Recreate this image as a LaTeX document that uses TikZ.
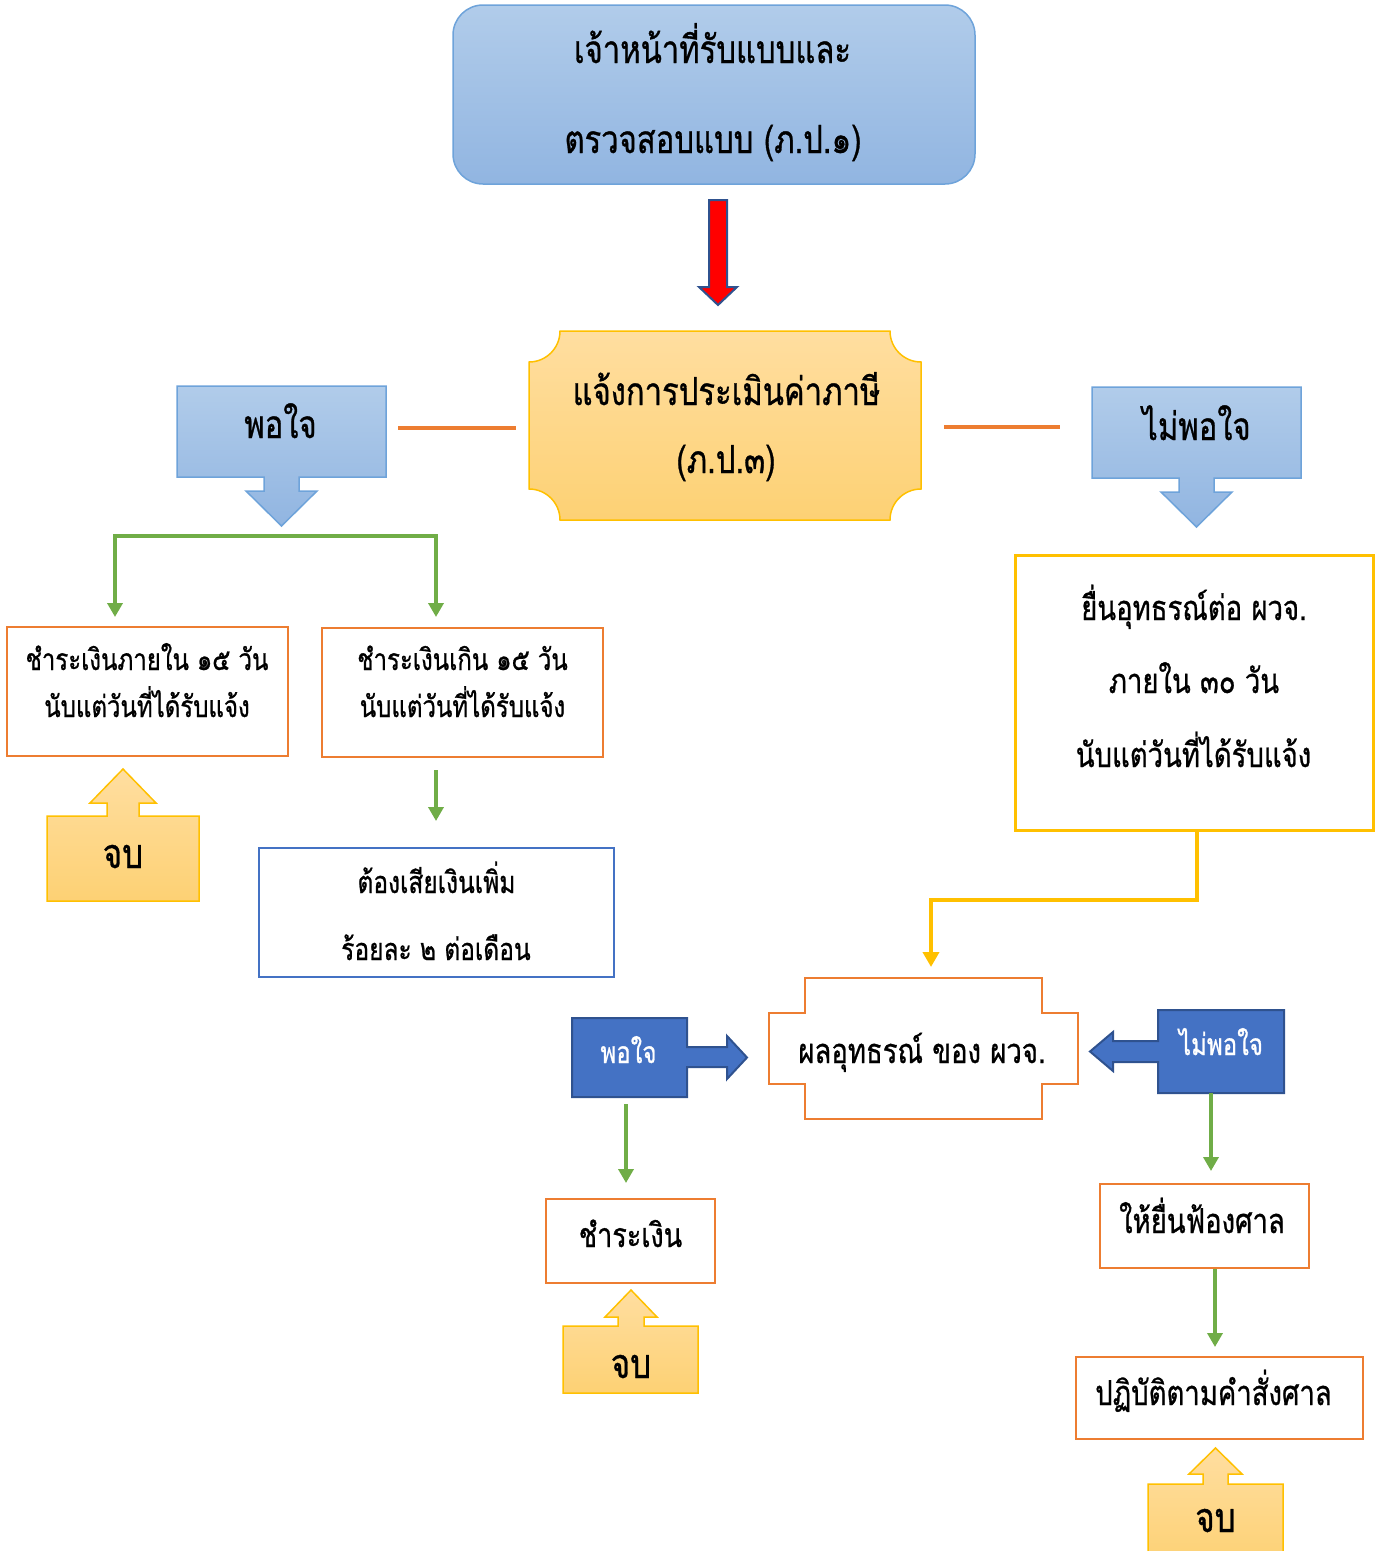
\documentclass[tikz,border=0pt]{standalone}
\usepackage{fontspec}
\newfontfamily\thaifont[Script=Thai,FakeBold=0.9]{Loma}
\usetikzlibrary{arrows.meta}
\newcommand{\TT}[1]{\scalebox{1}[1.25]{#1}}
\definecolor{lbA}{HTML}{B1CCEA}
\definecolor{lbB}{HTML}{91B5E1}
\definecolor{lbLine}{HTML}{6EA3DA}
\definecolor{orA}{HTML}{FFDEA0}
\definecolor{orB}{HTML}{FDD174}
\definecolor{gold}{HTML}{FFC000}
\definecolor{orange}{HTML}{ED7D31}
\definecolor{green}{HTML}{70AD47}
\definecolor{blueA}{HTML}{4472C4}
\definecolor{blueD}{HTML}{2F528F}
\begin{document}
\begin{tikzpicture}[x=1pt,y=-1pt,
  lbshape/.style={draw=lbLine,line width=1.5pt,top color=lbA,bottom color=lbB},
  orshape/.style={draw=gold,line width=1.5pt,top color=orA,bottom color=orB},
  dbshape/.style={draw=blueD,line width=2pt,fill=blueA},
  obox/.style={draw=orange,line width=2.5pt,fill=white,inner sep=0pt},
  ghost/.style={inner sep=0pt,minimum width=0pt,minimum height=0pt},
  tbig/.style={anchor=base,inner sep=0pt,font=\thaifont\fontsize{31}{36}\selectfont},
  tmed/.style={anchor=base,inner sep=0pt,font=\thaifont\fontsize{27.5}{33}\selectfont},
  tpay/.style={anchor=base,inner sep=0pt,font=\thaifont\fontsize{27}{33}\selectfont},
  tfine/.style={anchor=base,inner sep=0pt,font=\thaifont\fontsize{24.5}{30}\selectfont},
  tsml/.style={anchor=base,inner sep=0pt,font=\thaifont\fontsize{24}{29}\selectfont},
  tend/.style={anchor=base,inner sep=0pt,text depth=0pt,font=\thaifont\fontsize{33}{38}\selectfont},
  twht/.style={anchor=base,inner sep=0pt,text=white,font=\thaifont\fontsize{24}{29}\selectfont},
  garrow/.style={draw=green,line width=3.5pt,-{Triangle[width=15pt,length=14pt]}},
  yarrow/.style={draw=gold,line width=4pt,-{Triangle[width=16pt,length=15pt]}},
  oline/.style={draw=orange,line width=4pt}
]
\useasboundingbox (0,0) rectangle (1381,1551);
\clip (0,0) rectangle (1381,1551);

% top rounded box
\node[draw=lbLine,line width=1.5pt,rounded corners=30pt,top color=lbA,bottom color=lbB,
      minimum width=522pt,minimum height=179pt,inner sep=0pt] (top) at (714,94.5) {};
\node[tbig] (top1) at (712.5,63) {\TT{เจ้าหน้าที่รับแบบและ}};
\node[tbig] (top2) at (713,153) {\TT{ตรวจสอบแบบ (ภ.ป.๑)}};

% red block arrow
\draw[draw=blueD,line width=2pt,fill=red] (709,200) -- (727,200) -- (727,287) -- (737,287)
  -- (718,305) -- (699,287) -- (709,287) -- cycle;

% plaque
\path[orshape] (560,331) -- (890,331) arc[start angle=180,end angle=90,radius=31]
  -- (921,489) arc[start angle=270,end angle=180,radius=31]
  -- (560,520) arc[start angle=0,end angle=-90,radius=31]
  -- (529,362) arc[start angle=90,end angle=0,radius=31] -- cycle;
\node[ghost,minimum width=392pt,minimum height=189pt] (plq) at (725,425.5) {};
\node[tbig] (plq1) at (726.5,405) {\TT{แจ้งการประเมินค่าภาษี}};
\node[tbig] (plq2) at (726,473) {\TT{(ภ.ป.๓)}};

% left light-blue callout
\path[lbshape] (177,386) -- (386,386) -- (386,477) -- (299,477) -- (299,491) -- (317,491)
  -- (281.5,526) -- (246,491) -- (264,491) -- (264,477) -- (177,477) -- cycle;
\node[ghost,minimum width=209pt,minimum height=91pt] (pcl) at (281.5,431.5) {};
\node[tbig] (pclt) at (280.5,438) {\TT{พอใจ}};

% right light-blue callout
\path[lbshape] (1092,387) -- (1301,387) -- (1301,478) -- (1214,478) -- (1214,492) -- (1232,492)
  -- (1196.5,527) -- (1161,492) -- (1179,492) -- (1179,478) -- (1092,478) -- cycle;
\node[ghost,minimum width=209pt,minimum height=91pt] (ncl) at (1196.5,432.5) {};
\node[tbig] (nclt) at (1196.5,440) {\TT{ไม่พอใจ}};

% orange lines
\coordinate (ol1) at (398,428);
\coordinate (ol2) at (516,428);
\coordinate (or1) at (944,427);
\coordinate (or2) at (1060,427);
\draw[oline] (ol1) -- (ol2);
\draw[oline] (or1) -- (or2);

% boxes A and B
\node[obox,minimum width=281pt,minimum height=129pt] (boxA) at (147.5,691.5) {};
\node[tsml] (A1) at (147,670) {\TT{ชำระเงินภายใน ๑๕ วัน}};
\node[tsml] (A2) at (147,717) {\TT{นับแต่วันที่ได้รับแจ้ง}};
\node[obox,minimum width=281pt,minimum height=129pt] (boxB) at (462.5,692.5) {};
\node[tsml] (B1) at (462.5,670) {\TT{ชำระเงินเกิน ๑๕ วัน}};
\node[tsml] (B2) at (462.5,717) {\TT{นับแต่วันที่ได้รับแจ้ง}};

% green bracket
\coordinate (gA) at (115,617);
\coordinate (gB) at (436,617);
\coordinate (gtop) at (275,536);
\draw[garrow,{Triangle[width=15pt,length=14pt]}-{Triangle[width=15pt,length=14pt]}] (gA) |- (gtop) -| (gB);

% end 1
\path[orshape] (47,816) -- (107,816) -- (107,803) -- (90,803) -- (123,769) -- (156,803)
  -- (139,803) -- (139,816) -- (199,816) -- (199,901) -- (47,901) -- cycle;
\node[ghost,minimum width=152pt,minimum height=85pt] (end1) at (123,858.5) {};
\node[tend] (end1t) at (123,868) {\TT{จบ}};

% blue box
\node[draw=blueA,line width=2.5pt,minimum width=355pt,minimum height=129pt,inner sep=0pt] (fine) at (436.5,912.5) {};
\node[tfine] (C1) at (436.5,893) {\TT{ต้องเสียเงินเพิ่ม}};
\node[tfine] (C2) at (436,960) {\TT{ร้อยละ ๒ ต่อเดือน}};
\coordinate (g3) at (436,821);
\draw[garrow] (boxB.south -| g3) ++(0,12) -- (g3);

% right yellow box
\node[draw=gold,line width=3pt,minimum width=358pt,minimum height=275pt,inner sep=0pt] (rbox) at (1194,692.5) {};
\node[tmed] (R1) at (1194,620) {\TT{ยื่นอุทธรณ์ต่อ ผวจ.}};
\node[tmed] (R2) at (1194,693) {\TT{ภายใน ๓๐ วัน}};
\node[tmed] (R3) at (1193.5,767) {\TT{นับแต่วันที่ได้รับแจ้ง}};

% cross shape
\draw[draw=orange,line width=2.5pt,fill=white] (805,978) -- (1042,978) -- (1042,1013) -- (1078,1013)
  -- (1078,1084) -- (1042,1084) -- (1042,1119) -- (805,1119) -- (805,1084) -- (769,1084)
  -- (769,1013) -- (805,1013) -- cycle;
\node[ghost,minimum width=309pt,minimum height=141pt] (cross) at (923.5,1048.5) {};
\node[tmed] (Xt) at (922,1063) {\TT{ผลอุทธรณ์ ของ ผวจ.}};

% yellow connector
\coordinate (y1) at (1197,900);
\coordinate (y2) at (931,967);
\draw[yarrow] (rbox.south -| y1) -- (y1) -| (y2);

% dark blue right-arrow callout
\path[dbshape] (572,1018) -- (687,1018) -- (687,1047) -- (727,1047) -- (727,1036) -- (747,1057.5)
  -- (727,1079) -- (727,1067) -- (687,1067) -- (687,1097) -- (572,1097) -- cycle;
\node[ghost,minimum width=115pt,minimum height=79pt] (dpl) at (629.5,1057.5) {};
\node[twht] (W1) at (628.5,1063) {\TT{พอใจ}};

% dark blue left-arrow callout
\path[dbshape] (1284,1010) -- (1284,1093) -- (1158,1093) -- (1158,1062) -- (1113,1062)
  -- (1113,1071) -- (1090,1051.5) -- (1113,1032) -- (1113,1041) -- (1158,1041) -- (1158,1010) -- cycle;
\node[ghost,minimum width=126pt,minimum height=83pt] (dnp) at (1221,1051.5) {};
\node[twht] (W2) at (1221,1055) {\TT{ไม่พอใจ}};

% pay box
\node[obox,minimum width=169pt,minimum height=84pt] (pay) at (630.5,1241) {};
\node[tpay] (Pt) at (630.5,1247) {\TT{ชำระเงิน}};
\coordinate (g4) at (626,1183);
\draw[garrow] (dpl.south -| g4) ++(0,7) -- (g4);

% end 2
\path[orshape] (563,1326) -- (618,1326) -- (618,1317) -- (605,1317) -- (631,1290) -- (657,1317)
  -- (644,1317) -- (644,1326) -- (698,1326) -- (698,1393) -- (563,1393) -- cycle;
\node[ghost,minimum width=135pt,minimum height=67pt] (end2) at (630.5,1359.5) {};
\node[tend] (end2t) at (631,1378) {\TT{จบ}};

% sue box
\node[obox,minimum width=209pt,minimum height=84pt] (sue) at (1204.5,1226) {};
\node[tmed] (St) at (1202,1233) {\TT{ให้ยื่นฟ้องศาล}};
\coordinate (g5) at (1211,1171);
\draw[garrow] (dnp.south -| g5) -- (g5);

% court box
\node[obox,minimum width=287pt,minimum height=82pt] (court) at (1219.5,1398) {};
\node[tmed] (CTt) at (1213.5,1405) {\TT{ปฏิบัติตามคำสั่งศาล}};
\coordinate (g6) at (1215,1347);
\draw[garrow] (sue.south -| g6) -- (g6);

% end 3
\path[orshape] (1148,1484) -- (1203,1484) -- (1203,1474) -- (1189,1474) -- (1215.5,1448) -- (1242,1474)
  -- (1228,1474) -- (1228,1484) -- (1283,1484) -- (1283,1565) -- (1148,1565) -- cycle;
\node[ghost,minimum width=135pt,minimum height=67pt] (end3) at (1215.5,1517) {};
\node[tend] (end3t) at (1215.5,1532) {\TT{จบ}};
\end{tikzpicture}
\end{document}
